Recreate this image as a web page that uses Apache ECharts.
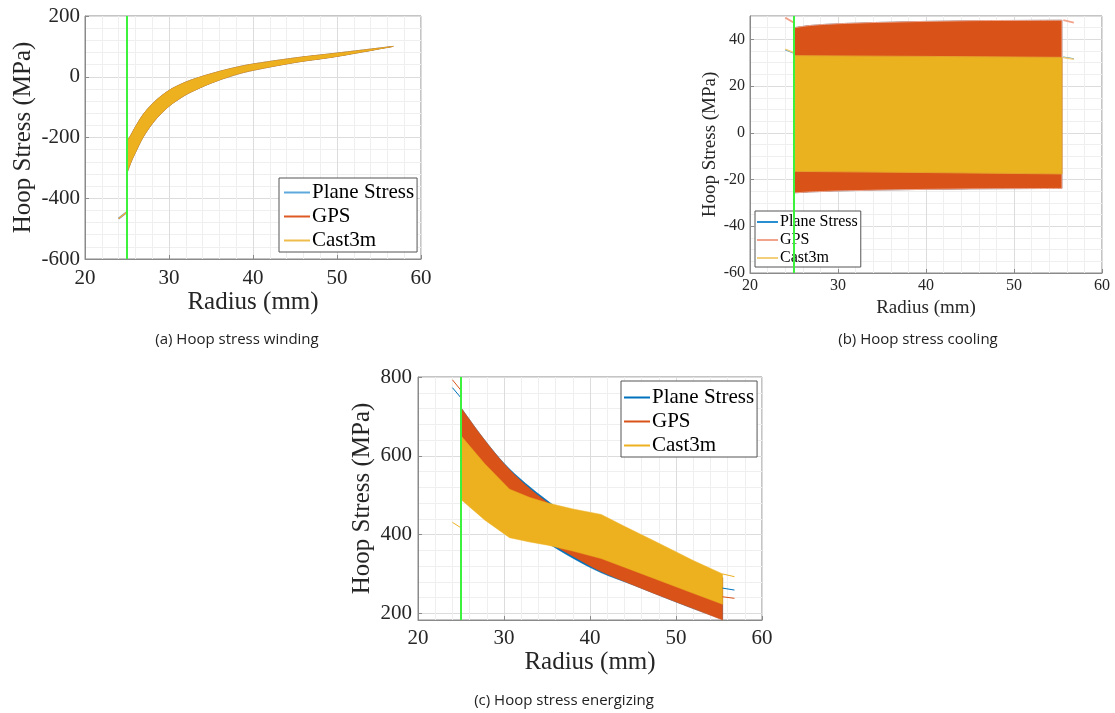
<!DOCTYPE html>
<html>
<head>
<meta charset="utf-8">
<title>Hoop stress</title>
<script src="https://cdn.jsdelivr.net/npm/echarts@6/dist/echarts.min.js"></script>
<style>
  html, body { margin: 0; background: #fff; }
  #chart { width: 1115px; height: 713px; }
</style>
</head>
<body>
<div id="chart"></div>
<script>
// inner radius of the winding (green marker line)
const innerRadius = 25;

// (a) winding - the three models lie on top of each other
const windR = [25, 25.5, 26, 26.9, 28, 29, 30, 31, 32.5, 35, 37.5, 40, 45, 50, 56.7];
const windUpper = [-212, -190, -165, -125, -90, -65, -45, -30, -12, 10, 28, 42, 62, 78, 100];
const windLower = [-317, -280, -250, -200, -155, -123, -97, -77, -52, -21, 3, 21, 47, 67, 100];
const windEndR = [24, 25];
const windEnd = [-467, -445];

// (b) cooling
const coolGpsR = [25, 27, 30, 35, 40, 45, 50, 55.45];
const coolGpsUpper = [45.0, 46.0, 46.7, 47.3, 47.7, 48.0, 48.1, 48.2];
const coolGpsLower = [-25.7, -25.3, -24.9, -24.5, -24.2, -24.0, -23.9, -23.8];
const coolCastR = [25, 40, 55.45];
const coolCastUpper = [33.0, 32.7, 32.3];
const coolCastLower = [-16.5, -17.0, -17.6];
const coolEndR = [24, 25, null, 55.6, 56.8];
const coolPlaneEnd = [35.6, 34.1, null, 32.4, 31.7];
const coolGpsEnd = [49.3, 47.1, null, 48.2, 47.2];
const coolCastEnd = [35.8, 34.3, null, 32.2, 31.5];

// (c) energizing
const enR = [25, 27.5, 30, 32.5, 35.1, 38, 41.3, 45, 48.45, 52, 55.42];
const enPlaneUpper = [722, 647, 581, 530, 485, 440, 405, 370, 340, 312, 290];
const enPlaneLower = [560, 500, 455, 415, 378, 340, 303, 272, 242, 212, 185];
const enGpsUpper = [722, 647, 580, 526, 481, 440, 405, 370, 340, 312, 290];
const enGpsLower = [560, 500, 455, 415, 381, 345, 306, 272, 242, 212, 183];
const enCastR = [25, 27.75, 30.65, 33, 35.1, 38, 41.3, 44, 48, 52, 55.42];
const enCastUpper = [651, 580, 515, 494, 480, 465, 451, 421, 378, 334, 300];
const enCastLower = [489, 437, 392, 381, 373, 358, 339, 317, 284, 251, 223];
const enEndR = [24, 25, null, 55.4, 56.8];
const enPlaneEnd = [773, 747, null, 264, 259];
const enGpsEnd = [793, 766, null, 242, 238];
const enCastEnd = [431, 417, null, 300, 293];

const serif = "'Liberation Serif', 'DejaVu Serif', serif";
const ink = "#262626";
const frame = "#8a8a8a";
const blue = "#0072BD";
const orange = "#D95319";
const yellow = "#EDB120";
const green = "#3df23d";

let chart = echarts.init(document.getElementById("chart"));

function xAxisFor(gi, fontSize, margin, nameSize, nameGap) {
  return {
    gridIndex: gi,
    type: "value",
    min: 20,
    max: 60,
    interval: 10,
    name: "Radius (mm)",
    nameLocation: "middle",
    nameGap: nameGap,
    nameTextStyle: { fontFamily: serif, fontSize: nameSize, color: ink },
    axisLine: { onZero: false, lineStyle: { color: frame } },
    axisTick: { inside: true, length: 4, lineStyle: { color: frame } },
    axisLabel: { fontFamily: serif, fontSize: fontSize, color: ink, margin: margin },
    splitLine: { show: true, lineStyle: { color: "#dcdcdc" } },
    minorTick: { show: false, splitNumber: 5 },
    minorSplitLine: { show: true, lineStyle: { color: "#efefef" } }
  };
}

function yAxisFor(gi, min, max, step, minor, labelEnds, fontSize, margin, nameSize, nameGap) {
  let axis = {
    gridIndex: gi,
    type: "value",
    min: min,
    max: max,
    name: "Hoop Stress (MPa)",
    nameLocation: "middle",
    nameGap: nameGap,
    nameTextStyle: { fontFamily: serif, fontSize: nameSize, color: ink },
    axisLine: { show: true, onZero: false, lineStyle: { color: frame } },
    axisTick: { show: true, inside: true, length: 4, lineStyle: { color: frame } },
    axisLabel: {
      fontFamily: serif,
      fontSize: fontSize,
      color: ink,
      margin: margin,
      showMinLabel: labelEnds[0],
      showMaxLabel: labelEnds[1]
    },
    splitLine: { show: true, lineStyle: { color: "#dcdcdc" } },
    minorTick: { show: false, splitNumber: minor },
    minorSplitLine: { show: true, lineStyle: { color: "#efefef" } }
  };
  // a fixed step only where min sits on it, otherwise let echarts pick it
  if (min % step === 0) axis.interval = step;
  else axis.splitNumber = Math.round((max - min) / step);
  return axis;
}

// catmull-rom curve through the pixel points, continuing an open path
function curveThrough(pts) {
  let d = "";
  for (let i = 0; i < pts.length - 1; i++) {
    let p0 = pts[i - 1] || pts[i];
    let p1 = pts[i];
    let p2 = pts[i + 1];
    let p3 = pts[i + 2] || p2;
    let c1 = [p1[0] + (p2[0] - p0[0]) / 6, p1[1] + (p2[1] - p0[1]) / 6];
    let c2 = [p2[0] - (p3[0] - p1[0]) / 6, p2[1] - (p3[1] - p1[1]) / 6];
    d += " C" + c1.join(",") + " " + c2.join(",") + " " + p2.join(",");
  }
  return d;
}

// filled band between lower and upper curves, drawn as one shape
function band(name, gi, r, lower, upper, fill, stroke, smooth) {
  let data = r.map((x, i) => [x, lower[i], upper[i]]);
  return {
    name: name,
    type: "custom",
    xAxisIndex: gi,
    yAxisIndex: gi,
    silent: true,
    z: 2,
    data: data,
    encode: { x: 0, y: [1, 2] },
    renderItem: function (params, api) {
      if (params.dataIndex !== 0) return;
      let top = data.map((d) => api.coord([d[0], d[2]]));
      let bottom = data.map((d) => api.coord([d[0], d[1]])).reverse();
      let style = { fill: fill, stroke: stroke || fill, lineWidth: stroke ? 1 : 0.5 };
      if (!smooth) {
        return { type: "polygon", shape: { points: top.concat(bottom) }, style: style };
      }
      let path = "M" + top[0].join(",") + curveThrough(top) +
        " L" + bottom[0].join(",") + curveThrough(bottom) + " Z";
      return { type: "path", shape: { pathData: path }, style: style };
    }
  };
}

function ends(name, gi, r, vals, color, width) {
  return {
    name: name,
    type: "line",
    xAxisIndex: gi,
    yAxisIndex: gi,
    symbol: "none",
    z: 3,
    data: r.map((x, i) => (x == null || vals[i] == null ? ["-", "-"] : [x, vals[i]])),
    lineStyle: { color: color, width: width },
    itemStyle: { color: color }
  };
}

function innerLine(gi, yMin, yMax) {
  return {
    type: "line",
    xAxisIndex: gi,
    yAxisIndex: gi,
    symbol: "none",
    silent: true,
    z: 4,
    data: [[innerRadius, yMin], [innerRadius, yMax]],
    lineStyle: { color: green, width: 2 }
  };
}

function legendFor(names, left, top, fontSize, iconW, iconH, gap, padding) {
  return {
    data: names,
    orient: "vertical",
    left: left,
    top: top,
    align: "left",
    padding: padding,
    itemGap: gap,
    icon: "rect",
    itemWidth: iconW,
    itemHeight: iconH,
    backgroundColor: "#fff",
    borderColor: "#555",
    borderWidth: 1,
    borderRadius: 0,
    selectedMode: false,
    formatter: (n) => n.trim(),
    textStyle: { fontFamily: serif, fontSize: fontSize, color: "#000", padding: [0, 0, 0, -3] }
  };
}

function caption(text, x, y) {
  return {
    type: "text",
    x: x,
    y: y,
    style: {
      text: text,
      align: "center",
      verticalAlign: "middle",
      font: "15px 'Open Sans', sans-serif",
      fill: "#222"
    }
  };
}

let option = {
  animation: false,
  backgroundColor: "#fff",
  grid: [
    { left: 85, top: 16, width: 336, height: 243, show: true, borderColor: frame, borderWidth: 1 },
    { left: 750, top: 16, width: 352, height: 257, show: true, borderColor: frame, borderWidth: 1 },
    { left: 418, top: 377, width: 344, height: 243, show: true, borderColor: frame, borderWidth: 1 }
  ],
  xAxis: [
    xAxisFor(0, 21, 9, 25, 29),
    xAxisFor(1, 16, 5, 19, 26),
    xAxisFor(2, 21, 8, 25, 28)
  ],
  yAxis: [
    yAxisFor(0, -600, 200, 200, 5, [true, true], 21, 5, 25, 49),
    yAxisFor(1, -60, 50, 20, 4, [true, false], 16, 5, 19, 27),
    yAxisFor(2, 183, 800, 200, 5, [false, true], 21, 6, 25, 43)
  ],
  legend: [
    legendFor(["Plane Stress", "GPS", "Cast3m"], 279, 178, 21, 26, 2, 3, [4, 3, 1, 5]),
    legendFor(["Plane Stress ", "GPS ", "Cast3m "], 755, 211, 16, 21, 2, 2, [3, 3, 1, 2]),
    legendFor(["Plane Stress  ", "GPS  ", "Cast3m  "], 621, 381, 21, 26, 2, 3, [6, 3, 1, 3])
  ],
  graphic: [
    caption("(a) Hoop stress winding", 237, 340),
    caption("(b) Hoop stress cooling", 918, 340),
    caption("(c) Hoop stress energizing", 564, 701)
  ],
  series: [
    // (a)
    band("a plane", 0, windR, windLower, windUpper, blue, null, true),
    band("a gps", 0, windR, windLower, windUpper, orange, null, true),
    band("a cast", 0, windR, windLower, windUpper, yellow, null, true),
    ends("Plane Stress", 0, windEndR, windEnd, "#5fa8dc", 2),
    ends("GPS", 0, windEndR, windEnd, "#dd5a24", 1.2),
    ends("Cast3m", 0, windEndR, windEnd, "#efbd4c", 1.2),
    innerLine(0, -600, 200),
    // (b)
    band("b plane", 1, coolGpsR, coolGpsLower, coolGpsUpper, blue, null, true),
    band("b gps", 1, coolGpsR, coolGpsLower, coolGpsUpper, orange, "#f0a48a", true),
    band("b cast", 1, coolCastR, coolCastLower, coolCastUpper, "#ebb220", "#e5a12c", false),
    ends("Plane Stress ", 1, coolEndR, coolPlaneEnd, "#2a8fd0", 1.2),
    ends("GPS ", 1, coolEndR, coolGpsEnd, "#f2a38c", 1.8),
    ends("Cast3m ", 1, coolEndR, coolCastEnd, "#f3cf7a", 1.5),
    innerLine(1, -60, 50),
    // (c)
    band("c plane", 2, enR, enPlaneLower, enPlaneUpper, blue, null, true),
    band("c gps", 2, enR, enGpsLower, enGpsUpper, orange, null, true),
    band("c cast", 2, enCastR, enCastLower, enCastUpper, yellow, null, false),
    ends("Plane Stress  ", 2, enEndR, enPlaneEnd, blue, 1),
    ends("GPS  ", 2, enEndR, enGpsEnd, orange, 1),
    ends("Cast3m  ", 2, enEndR, enCastEnd, yellow, 1),
    innerLine(2, 183, 800)
  ]
};

chart.setOption(option);
</script>
</body>
</html>
